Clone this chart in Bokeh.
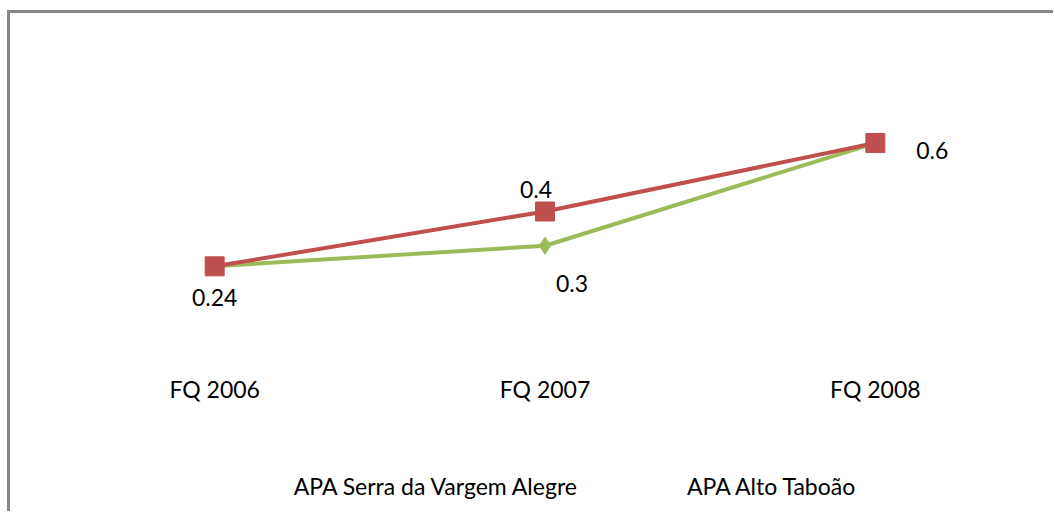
from bokeh.plotting import figure
from bokeh.layouts import column
from bokeh.models import (ColumnDataSource, FactorRange, Range1d, Legend, LegendItem, LabelSet)
from bokeh.core.properties import value
from bokeh.embed import file_html
from bokeh.resources import INLINE

# ---- data ----
categories = ["FQ 2006", "FQ 2007", "FQ 2008"]
serra_values = [0.24, 0.3, 0.6]
taboao_values = [0.24, 0.4, 0.6]
series_names = ["APA Serra da Vargem Alegre", "APA Alto Taboão"]

GREEN = "#9BBB59"
RED = "#C0504D"
FONT = "Lato"
FS = "23px"

src = ColumnDataSource(dict(x=categories, serra=serra_values, taboao=taboao_values))

p = figure(
    x_range=FactorRange(factors=categories, range_padding=0),
    y_range=Range1d(0, 0.8),
    frame_width=991, frame_height=274,
    min_border_left=39, min_border_right=13, min_border_top=61, min_border_bottom=113,
    output_backend="svg", toolbar_location=None,
    y_axis_location=None,
)
p.outline_line_color = None
p.xgrid.visible = False
p.ygrid.visible = False
p.background_fill_color = "white"
p.border_fill_color = "white"

ax = p.xaxis[0]
ax.axis_line_color = None
ax.major_tick_line_color = None
ax.minor_tick_line_color = None
ax.major_tick_out = 0
ax.major_tick_in = 0
ax.major_label_standoff = 26
ax.major_label_text_font = FONT
ax.major_label_text_font_size = FS
ax.major_label_text_color = "black"

gl = p.line("x", "serra", source=src, line_width=4, color=GREEN, line_join="round")
gs = p.scatter("x", "serra", source=src, marker="diamond", size=17, color=GREEN)
rl = p.line("x", "taboao", source=src, line_width=4, color=RED, line_join="round")
rs = p.scatter("x", "taboao", source=src, marker="square", size=19, color=RED)

# data labels (which points carry a label, and their placement offsets)
lab_x = [categories[0], categories[1], categories[2], categories[1]]
lab_y = [taboao_values[0], taboao_values[1], taboao_values[2], serra_values[1]]
lab_t = [f"{v:g}" for v in lab_y]
lab_dx = [0, -9, 57, 27]
lab_dy = [-31, 22, -7, -38]
lsrc = ColumnDataSource(dict(x=lab_x, y=lab_y, t=lab_t, dx=lab_dx, dy=lab_dy))
labels = LabelSet(x="x", y="y", text="t", source=lsrc, x_offset="dx", y_offset="dy",
                  text_align="center", text_baseline="middle",
                  text_font=value(FONT), text_font_size=value(FS), text_color="black")
p.add_layout(labels)

# ---- legend strip (second figure, legend inside its frame) ----
lg = figure(
    x_range=Range1d(0, 1), y_range=Range1d(0, 1),
    width=1043, height=50,
    min_border_left=0, min_border_right=0, min_border_top=0, min_border_bottom=0,
    output_backend="svg", toolbar_location=None,
    x_axis_location=None, y_axis_location=None,
)
lg.outline_line_color = None
lg.xgrid.visible = False
lg.ygrid.visible = False
empty = ColumnDataSource(dict(x=[], y=[]))
lgl = lg.line("x", "y", source=empty, line_width=4, color=GREEN)
lgs = lg.scatter("x", "y", source=empty, marker="diamond", size=17, color=GREEN)
lrl = lg.line("x", "y", source=empty, line_width=4, color=RED)
lrs = lg.scatter("x", "y", source=empty, marker="square", size=19, color=RED)

legend = Legend(
    items=[LegendItem(label=series_names[0], renderers=[lgl, lgs]),
           LegendItem(label=series_names[1], renderers=[lrl, lrs])],
    orientation="horizontal", location="center",
    glyph_width=55, glyph_height=44, label_standoff=5, spacing=50,
    padding=0, margin=0, border_line_color=None, background_fill_alpha=0,
    label_text_font=FONT, label_text_font_size=FS, label_text_color="black",
)
lg.add_layout(legend, "center")

layout = column(p, lg, spacing=0)
layout.styles = {"border-top": "3px solid #878787", "border-left": "3px solid #878787",
                 "margin-top": "10px", "margin-left": "7px"}

open("out.html", "w").write(file_html(layout, INLINE))
